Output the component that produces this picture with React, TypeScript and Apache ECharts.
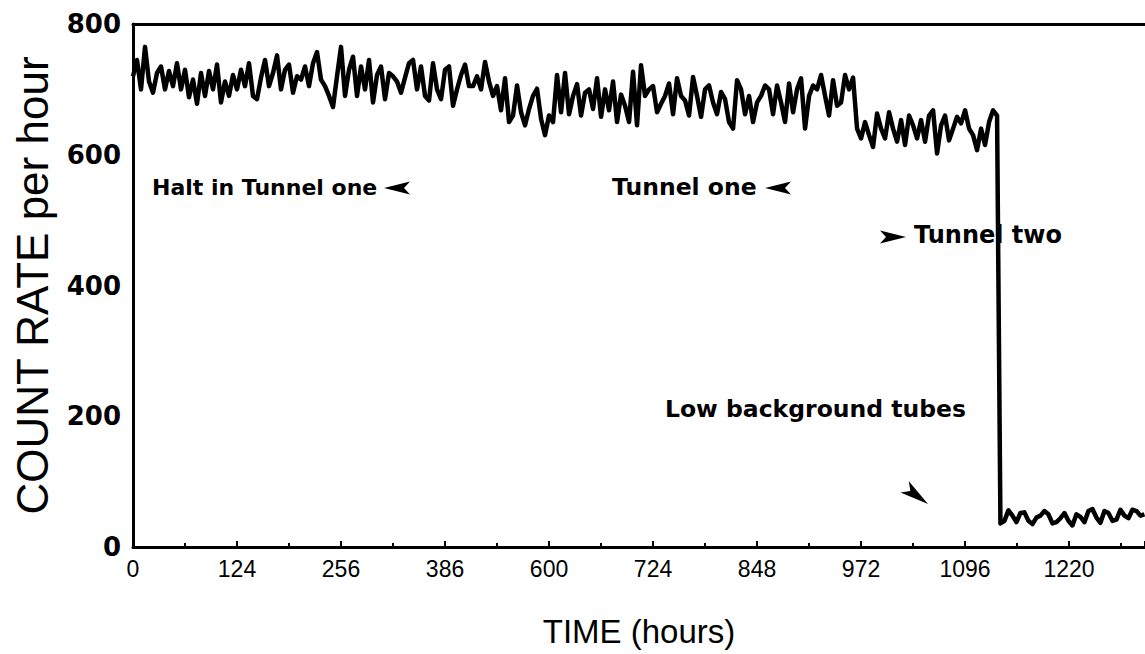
import React, { useEffect, useRef } from "react";
import * as echarts from "echarts";

// Tick labels along the time axis (as printed), one per major tick
const xTickLabels = ["0", "124", "256", "386", "600", "724", "848", "972", "1096", "1220"];
const yTickValues = [0, 200, 400, 600, 800];

// Sampling: one reading every 1/26 of a tick interval
const sampleStep = 1 / 26;

// Count rates with the standard tubes (from t = 0 to the change-over)
const standardStart = 0;
const standardTubeCounts = [
  720, 745, 700, 765, 712, 695, 725, 735, 700, 728, 705, 740, 700, 730, 688, 715, 678, 725, 690, 728, 700, 738,
  680, 712, 690, 722, 700, 730, 705, 740, 690, 685, 718, 745, 705, 725, 752, 700, 730, 738, 695, 720, 715,
  735, 705, 740, 757, 715, 705, 690, 673, 720, 765, 690, 730, 750, 690, 735, 700, 745, 680, 722, 735, 685,
  725, 720, 712, 695, 718, 740, 745, 700, 735, 690, 683, 740, 700, 685, 730, 735, 675, 700, 722, 738, 705,
  705, 720, 700, 742, 712, 690, 705, 668, 717, 650, 660, 706, 665, 645, 670, 690, 701, 655, 630, 660, 650,
  722, 665, 725, 662, 690, 708, 660, 695, 700, 670, 717, 658, 700, 668, 712, 650, 692, 675, 650, 727, 645, 737,
  690, 700, 705, 665, 678, 690, 709, 662, 717, 690, 683, 660, 719, 690, 658, 700, 706, 680, 662, 696, 685,
  650, 640, 714, 700, 662, 690, 650, 680, 690, 706, 700, 662, 706, 680, 650, 709, 665, 700, 717, 640, 690, 706,
  700, 722, 690, 660, 714, 675, 680, 722, 700, 718, 640, 625, 650, 630, 612, 663, 640, 625, 665, 640, 620,
  653, 615, 660, 645, 625, 653, 620, 660, 668, 602, 645, 660, 622, 640, 658, 648, 668, 640, 630, 607, 640,
  615, 650, 668, 660,
];

// Count rates with the low background tubes
const lowBackgroundStart = 8.34;
const lowBackgroundCounts = [
  36, 40, 56, 48, 38, 52, 53, 40, 35, 45, 48, 55, 50, 36, 38, 44, 52, 40, 33, 50, 46, 38, 55, 58, 45, 37, 55,
  52, 40, 42, 57, 48, 44, 57, 55, 48, 50,
];

const xMax = 9.73;

function dartPoints(tipX: number, tipY: number, dirX: number, dirY: number, len = 26, half = 6.5, notch = 6) {
  const l = Math.hypot(dirX, dirY);
  const dx = dirX / l;
  const dy = dirY / l;
  const nx = -dy;
  const ny = dx;
  const bx = tipX - dx * len;
  const by = tipY - dy * len;
  return [
    [tipX, tipY],
    [bx + nx * half, by + ny * half],
    [bx + dx * notch, by + dy * notch],
    [bx - nx * half, by - ny * half],
  ];
}

export default function App() {
  const ref = useRef<HTMLDivElement>(null);

  useEffect(() => {
    if (!ref.current) return;
    const chart = echarts.init(ref.current, undefined, { renderer: "svg" });

    const data: number[][] = [];
    standardTubeCounts.forEach((v, i) => data.push([standardStart + i * sampleStep, v]));
    lowBackgroundCounts.forEach((v, i) => data.push([lowBackgroundStart + i * sampleStep, v]));

    const annFont = "'DejaVu Sans', 'Liberation Sans', sans-serif";
    const plainFont = "'Liberation Sans', Arial, Helvetica, sans-serif";

    const option: echarts.EChartsOption = {
      animation: false,
      backgroundColor: "#ffffff",
      grid: { left: 133, right: 0, top: 24, bottom: 107 },
      xAxis: [
        {
          type: "value",
          min: 0,
          max: xMax,
          interval: 1,
          splitLine: { show: false },
          axisLine: { show: true, lineStyle: { color: "#000", width: 3 } },
          axisTick: { show: true, inside: true, length: 6, lineStyle: { color: "#000", width: 2 } },
          minorTick: { show: true, splitNumber: 2, length: 4, lineStyle: { color: "#000", width: 2 } },
          axisLabel: {
            show: true,
            margin: 10,
            color: "#000",
            fontFamily: plainFont,
            fontSize: 23,
            showMaxLabel: false,
            formatter: (v: number) => {
              const idx = Math.round(v);
              return Math.abs(v - idx) < 1e-6 && xTickLabels[idx] !== undefined ? xTickLabels[idx] : "";
            },
          },
          name: "TIME (hours)",
          nameLocation: "middle",
          nameGap: 68,
          nameTextStyle: { color: "#000", fontFamily: plainFont, fontSize: 33 },
        },
        {
          type: "value",
          position: "top",
          min: 0,
          max: xMax,
          axisLine: { show: true, lineStyle: { color: "#000", width: 3 } },
          axisTick: { show: false },
          axisLabel: { show: false },
          splitLine: { show: false },
        },
      ],
      yAxis: {
        type: "value",
        min: 0,
        max: 800,
        interval: 200,
        splitLine: { show: false },
        axisLine: { show: true, lineStyle: { color: "#000", width: 3 } },
        axisTick: { show: false },
        axisLabel: {
          margin: 12,
          color: "#000",
          fontFamily: annFont,
          fontWeight: "bold",
          fontSize: 26,
          formatter: (v: number) => (yTickValues.includes(v) ? String(v) : ""),
        },
        name: "COUNT RATE per hour",
        nameLocation: "middle",
        nameRotate: 90,
        nameGap: 79,
        nameTextStyle: { color: "#000", fontFamily: plainFont, fontSize: 44 },
      },
      series: [
        {
          type: "line",
          data,
          showSymbol: false,
          symbol: "none",
          lineStyle: { color: "#000", width: 4.5, join: "round" },
          clip: true,
        },
      ],
      graphic: [
        {
          type: "text",
          left: 152,
          top: 176,
          style: { text: "Halt in Tunnel one", font: `bold 22px ${annFont}`, fill: "#000" },
        },
        {
          type: "polygon",
          shape: { points: dartPoints(384, 188, -1, 0) },
          style: { fill: "#000" },
        },
        {
          type: "text",
          left: 612,
          top: 175,
          style: { text: "Tunnel one", font: `bold 23.5px ${annFont}`, fill: "#000" },
        },
        {
          type: "polygon",
          shape: { points: dartPoints(765, 188, -1, 0) },
          style: { fill: "#000" },
        },
        {
          type: "polygon",
          shape: { points: dartPoints(906, 237, 1, 0) },
          style: { fill: "#000" },
        },
        {
          type: "text",
          left: 914,
          top: 223,
          style: { text: "Tunnel two", font: `bold 24px ${annFont}`, fill: "#000" },
        },
        {
          type: "text",
          left: 665,
          top: 397,
          style: { text: "Low background tubes", font: `bold 23.5px ${annFont}`, fill: "#000" },
        },
        {
          type: "polygon",
          shape: { points: dartPoints(928, 504, 23, 17, 29, 7, 7) },
          style: { fill: "#000" },
        },
      ],
    };

    chart.setOption(option);
    return () => chart.dispose();
  }, []);

  return (
    <div
      ref={ref}
      style={{ position: "fixed", left: 0, top: 0, width: 1145, height: 654, background: "#fff" }}
    />
  );
}
